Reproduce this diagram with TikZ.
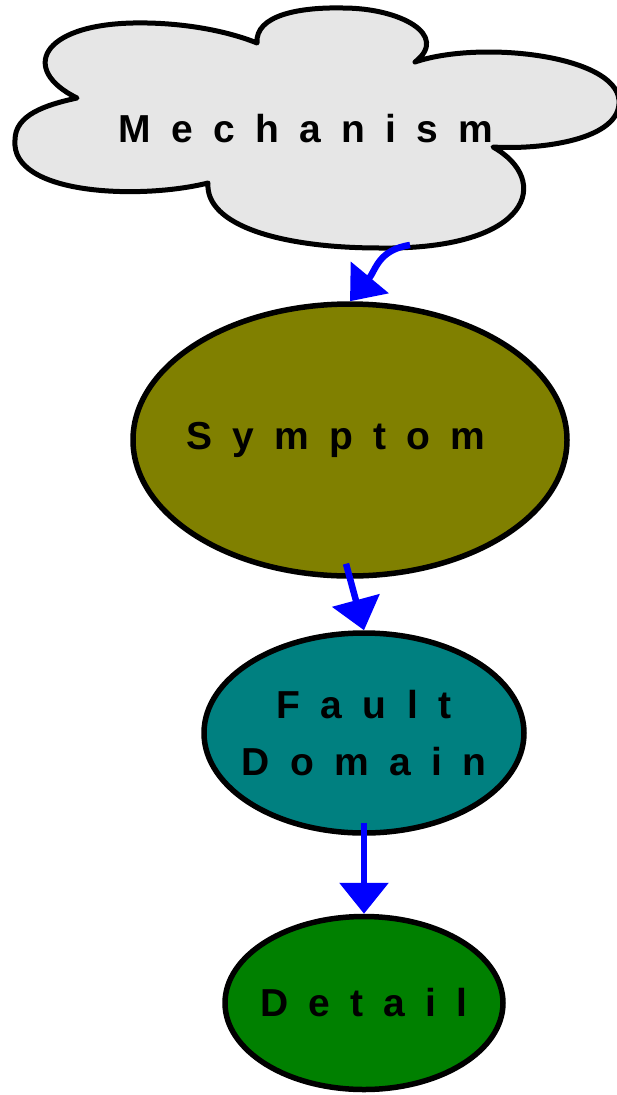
\documentclass[tikz,border=0pt]{standalone}
\usepackage{fontspec}
\setmainfont{Liberation Sans}
\newfontfamily\spaced{Liberation Sans}[LetterSpace=52]
\usetikzlibrary{positioning}
\usetikzlibrary{arrows.meta}
\usetikzlibrary{shapes.geometric}
\definecolor{cloudfill}{HTML}{E6E6E6}
\definecolor{symfill}{HTML}{808000}
\definecolor{faultfill}{HTML}{008080}
\definecolor{detfill}{HTML}{008000}

\begin{document}
\begin{tikzpicture}[x=1pt,y=-1pt,on grid,
   tag/.style={font=\spaced\bfseries\fontsize{39}{57}\selectfont,align=center},
   blob/.style={tag,ellipse,draw,line width=5.5pt,inner xsep=-60pt,inner ysep=-40pt},
   link/.style={blue,line width=6.5pt,-{Triangle[length=31pt,width=48pt]}}]
   \useasboundingbox (0,0) rectangle (617,1095);

   % cloud
   \filldraw[fill=cloudfill,line width=5pt,line join=round]
     (77,98) .. controls (20,70) and (40,25) .. (133,23)
     .. controls (185,22) and (230,32) .. (257,43)
     .. controls (255,15) and (300,7) .. (343,8)
     .. controls (400,8) and (450,35) .. (415,62)
     .. controls (480,40) and (615,55) .. (619,100)
     .. controls (622,140) and (540,150) .. (493,147)
     .. controls (552,180) and (532,250) .. (380,248)
     .. controls (280,248) and (205,225) .. (208,183)
     .. controls (140,200) and (10,195) .. (15,140)
     .. controls (15,115) and (45,105) .. cycle;
   \coordinate (mech_out) at (410,245);
   \node[tag] (mech) at (306,129) {Mechanism};

   \node[blob,fill=symfill,minimum width=434pt,minimum height=272pt] (sym) at (350,440) {\hspace*{-28pt}Symptom};
   \node[blob,fill=faultfill,minimum width=320pt,minimum height=200pt] (fault) [below right=293pt and 14pt of sym] {Fault\\Domain};
   \node[blob,fill=detfill,minimum width=278pt,minimum height=173pt] (det) [below=270pt of fault] {Detail};

   \draw[link] (mech_out) .. controls (378,250) and (376,270) .. (sym.north);
   \path[link]
     ([shift={(-4pt,15pt)}]sym.south) edge (fault.north)
     ([yshift=13pt]fault.south) edge (det.north);
\end{tikzpicture}
\end{document}
